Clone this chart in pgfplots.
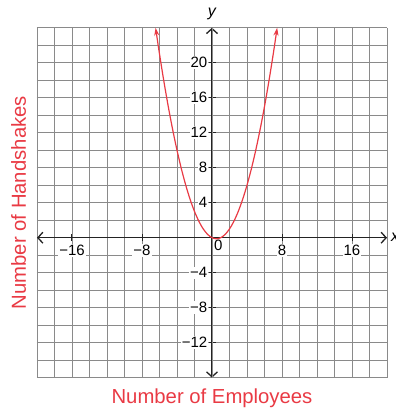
\documentclass[border=0pt]{standalone}
\usepackage{fontspec}
\setmainfont{Liberation Sans}
\usepackage{pgfplots}
\pgfplotsset{compat=1.18}
\usetikzlibrary{arrows.meta}

\definecolor{hsred}{RGB}{233,58,68}
\definecolor{gridgray}{RGB}{138,138,138}
\definecolor{axisdark}{RGB}{35,35,35}

% handshakes h = n(n-1)/2
\pgfplotstableread{
x       y
-6.446  24
-6      21
-5.5    17.875
-5      15
-4.5    12.375
-4      10
-3.5    7.875
-3      6
-2.5    4.375
-2      3
-1.5    1.875
-1      1
-0.5    0.375
0       0
0.5     -0.125
1       0
1.5     0.375
2       1
2.5     1.875
3       3
3.5     4.375
4       6
4.5     7.875
5       10
5.5     12.375
6       15
6.5     17.875
7       21
7.446   24
}\handshakes

\begin{document}
\begin{tikzpicture}
\begin{axis}[
  scale only axis, width=350pt, height=350pt,
  xmin=-20, xmax=20, ymin=-16, ymax=24,
  axis lines=middle,
  axis line style={axisdark, line width=1.3pt,
    {Straight Barb[length=5pt,width=11pt]}-{Straight Barb[length=5pt,width=11pt]}},
  xtick={-16,-8,8,16}, xticklabels={−16,−8,8,16},
  ytick={-12,-8,-4,4,8,12,16,20}, yticklabels={−12,−8,−4,4,8,12,16,20},
  extra x ticks={0}, extra x tick labels={0},
  extra x tick style={major tick length=0pt,
    xticklabel style={anchor=north west, xshift=1pt, yshift=2pt}},
  minor xtick={-20,-18,...,20}, minor ytick={-16,-14,...,24},
  grid=both,
  major grid style={gridgray, line width=0.9pt},
  minor grid style={gridgray, line width=0.9pt},
  tick align=center, major tick length=7pt, minor tick length=0pt,
  tick style={axisdark, line width=1pt},
  tick label style={font=\fontsize{15}{15}\selectfont, fill=white, inner sep=1pt},
  xticklabel style={yshift=-3pt},
  clip=false,
  xlabel={Number of Employees}, ylabel={Number of Handshakes},
  every axis x label/.style={at={(rel axis cs:0.5,0)}, anchor=base, yshift=-26pt,
    font=\fontsize{20.3}{21}\selectfont, text=hsred},
  every axis y label/.style={at={([xshift=-11pt]rel axis cs:0,0.5)}, rotate=90, anchor=base,
    font=\fontsize{20.3}{21}\selectfont, text=hsred},
]
\addplot[hsred, line width=1.2pt, smooth,
  {Stealth[length=8pt,width=5pt]}-{Stealth[length=8pt,width=5pt]}]
  table[x=x, y=y] {\handshakes};
\node[anchor=west, inner sep=0pt, font=\fontsize{16}{16}\selectfont\itshape]
  at (axis cs:20,0) [xshift=4pt] {x};
\node[anchor=base, inner sep=0pt, font=\fontsize{16}{16}\selectfont\itshape]
  at (axis cs:0,24) [yshift=11pt] {y};
\coordinate (sw) at (rel axis cs:0,0);
\coordinate (ne) at (rel axis cs:1,1);
\end{axis}
\pgfresetboundingbox
\path[use as bounding box] ([shift={(-37pt,-30.3pt)}]sw) rectangle ([shift={(9pt,27.7pt)}]ne);
\end{tikzpicture}
\end{document}
